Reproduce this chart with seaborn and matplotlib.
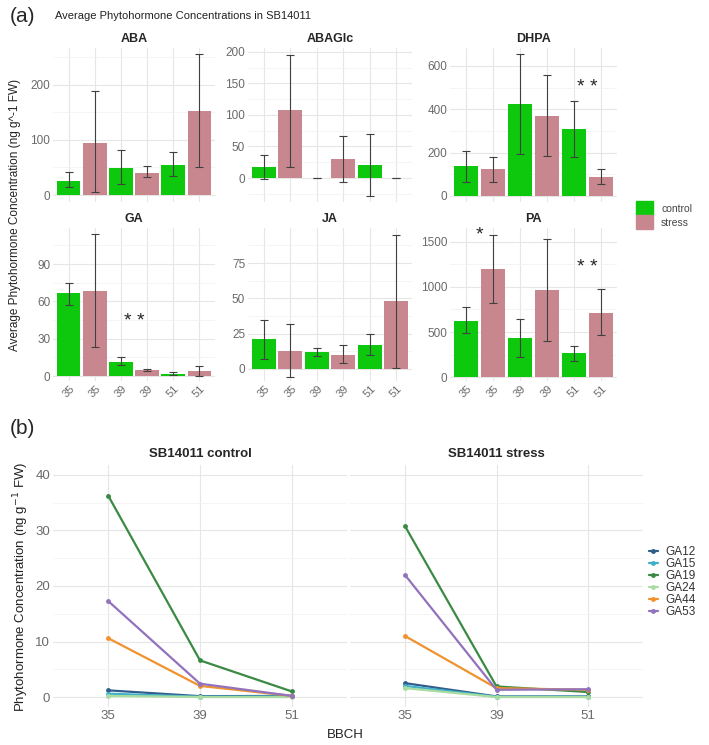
import numpy as np
import pandas as pd
import matplotlib
matplotlib.use("Agg")
import matplotlib.pyplot as plt
from matplotlib.patches import Patch
from matplotlib.ticker import MultipleLocator
import seaborn as sns

# --- data (a): bar panels ---
stages = ["35", "35", "39", "39", "51", "51"]
groups = ["control", "stress", "control", "stress", "control", "stress"]
hormones = ["ABA", "ABAGlc", "DHPA", "GA", "JA", "PA"]

aba_mean = [26, 94, 49, 40, 55, 153]
aba_lo = [15, 5, 20, 32, 35, 50]
aba_hi = [42, 188, 82, 52, 78, 256]

abaglc_mean = [18, 107, 0, 30, 21, 0]
abaglc_lo = [-1, 18, 0, -7, -29, 0]
abaglc_hi = [37, 195, 0, 66, 70, 0]

dhpa_mean = [140, 124, 424, 369, 308, 88]
dhpa_lo = [65, 65, 193, 185, 180, 55]
dhpa_hi = [208, 180, 655, 557, 438, 124]

ga_mean = [66.5, 68, 11.5, 5, 2, 4]
ga_lo = [57, 23.5, 9, 4, 0.5, 0]
ga_hi = [75, 114, 15, 6, 3.5, 8]

ja_mean = [21, 13, 12, 10, 17, 48]
ja_lo = [7, -6, 9, 4, 10, 1]
ja_hi = [35, 32, 15, 17, 25, 95]

pa_mean = [622, 1200, 433, 967, 267, 711]
pa_lo = [489, 822, 222, 400, 178, 467]
pa_hi = [778, 1578, 644, 1533, 344, 978]

# --- data (b): GA species over BBCH ---
bbch = ["35", "39", "51"]
ga_species = ["GA12", "GA15", "GA19", "GA24", "GA44", "GA53"]
control_ga = {
    "GA12": [1.2, 0.15, 0.2],
    "GA15": [0.6, 0.05, 0.1],
    "GA19": [36.3, 6.6, 1.0],
    "GA24": [0.2, 0.0, 0.0],
    "GA44": [10.6, 2.0, 0.2],
    "GA53": [17.3, 2.4, 0.2],
}
stress_ga = {
    "GA12": [2.5, 0.1, 0.1],
    "GA15": [2.0, 0.05, 0.05],
    "GA19": [30.8, 1.9, 0.9],
    "GA24": [1.6, 0.0, 0.0],
    "GA44": [11.0, 1.6, 1.3],
    "GA53": [22.0, 1.3, 1.4],
}

bar_colors = {"control": "#0dc80d", "stress": "#c8878f"}
ga_colors = {"GA12": "#2f5d8c", "GA15": "#3fb0c8", "GA19": "#3a8a44",
             "GA24": "#a8dca0", "GA44": "#f0922e", "GA53": "#9272bd"}

W, H = 709, 745


def box(l, t, r, b):
    return [l / W, 1 - b / H, (r - l) / W, (b - t) / H]


def tidy(ax, step):
    ax.yaxis.set_major_locator(MultipleLocator(step))
    ax.yaxis.set_minor_locator(MultipleLocator(step / 2))
    ax.grid(which="major", color="#e6e6e6", lw=0.8)
    ax.grid(which="minor", axis="y", color="#f2f2f2", lw=0.6)
    ax.set_axisbelow(True)
    for s in ax.spines.values():
        s.set_visible(False)
    ax.tick_params(which="both", length=0, colors="#6a6a6a", labelsize=8.5, pad=2)
    ax.set_xlabel("")
    ax.set_ylabel("")


sns.set_theme(style="white")
plt.rcParams["font.family"] = ["Liberation Sans", "DejaVu Sans"]

fig = plt.figure(figsize=(W / 100, H / 100), dpi=100)

panels = [
    ("ABA", aba_mean, aba_lo, aba_hi, (53, 48, 215, 202), (-12.7, 267), 100),
    ("ABAGlc", abaglc_mean, abaglc_lo, abaglc_hi, (248, 48, 412, 202), (-38, 206), 50),
    ("DHPA", dhpa_mean, dhpa_lo, dhpa_hi, (450, 48, 617, 202), (-28, 683), 200),
    ("GA", ga_mean, ga_lo, ga_hi, (53, 228, 215, 381), (-4, 119), 30),
    ("JA", ja_mean, ja_lo, ja_hi, (248, 228, 412, 381), (-8.5, 99.8), 25),
    ("PA", pa_mean, pa_lo, pa_hi, (450, 228, 617, 381), (-44, 1655), 500),
]

axes = {}
for name, mean, lo, hi, pos, ylim, step in panels:
    ax = fig.add_axes(box(*pos))
    df = pd.DataFrame({"slot": [f"{s}_{g}" for s, g in zip(stages, groups)],
                       "group": groups, "value": mean})
    sns.barplot(data=df, x="slot", y="value", hue="group", dodge=False,
                palette=bar_colors, saturation=1, width=0.9, errorbar=None,
                legend=False, ax=ax, edgecolor="none")
    m = np.array(mean, dtype=float)
    ax.errorbar(np.arange(6), m, yerr=[m - np.array(lo), np.array(hi) - m],
                fmt="none", ecolor="#404040", elinewidth=0.8, capsize=3, capthick=0.8)
    ax.set_xlim(-0.6, 5.6)
    ax.set_ylim(*ylim)
    tidy(ax, step)
    ax.set_title(name, fontsize=9, fontweight="bold", pad=4)
    ax.set_xticks(range(6))
    if pos[1] > 200:
        ax.set_xticklabels(stages, rotation=45, ha="center", fontsize=8)
    else:
        ax.set_xticklabels([])
    axes[name] = ax

# significance marks
axes["DHPA"].text(4.5, 500, "* *", ha="center", va="center", fontsize=14)
axes["GA"].text(2.5, 44, "* *", ha="center", va="center", fontsize=14)
axes["PA"].text(0.5, 1580, "*", ha="center", va="center", fontsize=14)
axes["PA"].text(4.5, 1220, "* *", ha="center", va="center", fontsize=14)

fig.legend(handles=[Patch(color=bar_colors["control"], label="control"),
                    Patch(color=bar_colors["stress"], label="stress")],
           loc="upper left", bbox_to_anchor=(632 / W, 1 - 197 / H), frameon=False,
           fontsize=7.5, handlelength=1.6, handleheight=1.7, labelspacing=0.0,
           handletextpad=0.8, borderaxespad=0, labelcolor="#444444")

fig.text(10 / W, 1 - 17 / H, "(a)", fontsize=15, va="center")
fig.text(55 / W, 1 - 16 / H, "Average Phytohormone Concentrations in SB14011",
         fontsize=8, va="center", color="#222222")
fig.text(15 / W, 1 - 215 / H, "Average Phytohormone Concentration (ng g^-1 FW)",
         rotation=90, fontsize=8.5, ha="center", va="center", color="#222222")

# --- (b) line panels ---
for i, (title, vals, pos) in enumerate([
        ("SB14011 control", control_ga, (53, 465, 347, 707)),
        ("SB14011 stress", stress_ga, (350, 465, 643, 707))]):
    ax = fig.add_axes(box(*pos))
    long = pd.DataFrame([(g, b, v) for g in ga_species for b, v in zip(bbch, vals[g])],
                        columns=["GA", "BBCH", "conc"])
    sns.lineplot(data=long, x="BBCH", y="conc", hue="GA", palette=ga_colors,
                 marker="o", markersize=3.5, markeredgewidth=0, linewidth=1.6,
                 sort=False, legend=(i == 1), ax=ax)
    ax.set_xlim(-0.6, 2.6)
    ax.set_ylim(-1.8, 41.8)
    tidy(ax, 10)
    ax.tick_params(labelsize=9.5)
    ax.set_title(title, fontsize=9.5, fontweight="bold", pad=6)
    if i == 1:
        ax.set_yticklabels([])
        handles, labels = ax.get_legend_handles_labels()
        ax.get_legend().remove()
        fig.legend(handles, labels, loc="upper left",
                   bbox_to_anchor=(644 / W, 1 - 541 / H), frameon=False,
                   fontsize=8.5, handlelength=0.8, labelspacing=0.0,
                   handletextpad=0.6, borderaxespad=0, labelcolor="#333333")

fig.text(10 / W, 1 - 428 / H, "(b)", fontsize=15, va="center")
fig.text(21 / W, 1 - 587 / H, "Phytohormone Concentration (ng g$^{-1}$ FW)",
         rotation=90, fontsize=9.5, ha="center", va="center", color="#222222")
fig.text(345 / W, 1 - 735 / H, "BBCH", fontsize=9.5, ha="center", va="center",
         color="#222222")

fig.savefig("out.png", dpi=100)
